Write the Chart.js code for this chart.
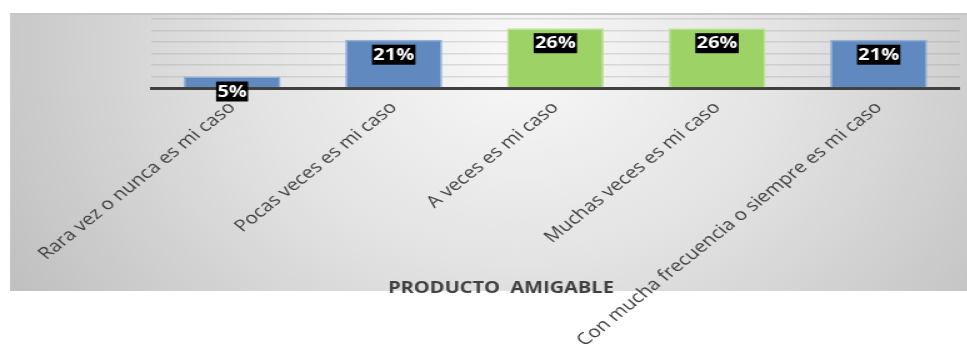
<!DOCTYPE html>
<html lang="es">
<head>
    <meta charset="UTF-8">
    <title>Producto amigable</title>
    <script src="https://cdn.jsdelivr.net/npm/chart.js@4.4.1/dist/chart.umd.min.js"></script>
    <style>
        html, body {
            margin: 0;
            padding: 0;
            background: #ffffff;
            overflow: hidden;
        }
        /* the source picture is stretched sideways (45deg labels look ~39deg), so draw narrow and stretch */
        .wrap {
            width: 774px;
            height: 348px;
            transform: scaleX(1.25);
            transform-origin: 0 0;
        }
    </style>
</head>
<body>
    <div class="wrap">
        <canvas id="grafico"></canvas>
    </div>

    <script>
        const categorias = ['Rara vez o nunca es mi caso', 'Pocas veces es mi caso', 'A veces es mi caso', 'Muchas veces es mi caso', 'Con mucha frecuencia o siempre es mi caso'];
        const porcentajes = [5, 21, 26, 26, 21];
        const etiquetas = ['5%', '21%', '26%', '26%', '21%'];
        const coloresBarra = ['#6089c0', '#6089c0', '#9dd267', '#9dd267', '#6089c0'];
        const bordesBarra = ['#8fb0da', '#8fb0da', '#bde49a', '#bde49a', '#8fb0da'];
        const tituloEje = 'PRODUCTO  AMIGABLE';

        // gray gradient panel behind the chart
        const fondo = {
            id: 'fondo',
            beforeDraw(chart) {
                const ctx = chart.ctx;
                ctx.save();
                const g = ctx.createRadialGradient(416, 50, 10, 416, 50, 470);
                g.addColorStop(0, '#f8f8f8');
                g.addColorStop(0.45, '#e3e3e3');
                g.addColorStop(1, '#c0c0c0');
                ctx.fillStyle = g;
                ctx.fillRect(8, 14, 766, 277);
                ctx.fillStyle = '#c6c6c6';
                ctx.fillRect(8, 13, 766, 2);
                ctx.restore();
            }
        };

        // black boxes with white percentages
        const etiquetasBarra = {
            id: 'etiquetasBarra',
            afterDatasetsDraw(chart) {
                const ctx = chart.ctx;
                const meta = chart.getDatasetMeta(0);
                ctx.save();
                ctx.font = 'bold 16px "Open Sans"';
                ctx.textAlign = 'center';
                ctx.textBaseline = 'middle';
                meta.data.forEach((bar, i) => {
                    const txt = etiquetas[i];
                    const w = ctx.measureText(txt).width + 2;
                    const top = bar.y + 5;
                    ctx.fillStyle = '#000000';
                    ctx.fillRect(bar.x - w / 2, top, w, 20);
                    ctx.fillStyle = '#ffffff';
                    ctx.fillText(txt, bar.x, top + 10.5);
                });
                ctx.restore();
            }
        };

        const tituloAbajo = {
            id: 'tituloAbajo',
            afterDraw(chart) {
                const ctx = chart.ctx;
                ctx.save();
                ctx.font = 'bold 16px "Open Sans"';
                ctx.fillStyle = '#404040';
                ctx.textAlign = 'center';
                ctx.textBaseline = 'middle';
                ctx.fillText(tituloEje, 400.8, 288);
                ctx.restore();
            }
        };

        var ctx1 = document.getElementById('grafico').getContext('2d');
        var grafico = new Chart(ctx1, {
            type: 'bar',
            data: {
                labels: categorias,
                datasets: [{
                    data: porcentajes,
                    backgroundColor: coloresBarra,
                    borderColor: bordesBarra,
                    borderWidth: 1.5,
                    barPercentage: 0.6,
                    categoryPercentage: 1
                }]
            },
            options: {
                responsive: true,
                maintainAspectRatio: false,
                animation: false,
                layout: { padding: { left: 121, right: 6.4, top: 19, bottom: 0 } },
                plugins: {
                    legend: { display: false },
                    tooltip: { enabled: false }
                },
                scales: {
                    x: {
                        grid: { display: false },
                        border: { display: true, color: '#404040', width: 3 },
                        ticks: {
                            color: '#404040',
                            font: { family: 'Open Sans', size: 16.5 },
                            minRotation: 45,
                            maxRotation: 45,
                            autoSkip: false,
                            padding: 2
                        },
                        afterFit(scale) { scale.height = 260; }
                    },
                    y: {
                        min: 0,
                        max: 30,
                        ticks: { display: false, stepSize: 5 },
                        grid: { color: 'rgba(140,140,140,0.25)', lineWidth: 1.5, drawTicks: false },
                        border: { display: false },
                        afterFit(scale) { scale.width = 0; }
                    }
                }
            },
            plugins: [fondo, etiquetasBarra, tituloAbajo]
        });
    </script>
</body>
</html>
